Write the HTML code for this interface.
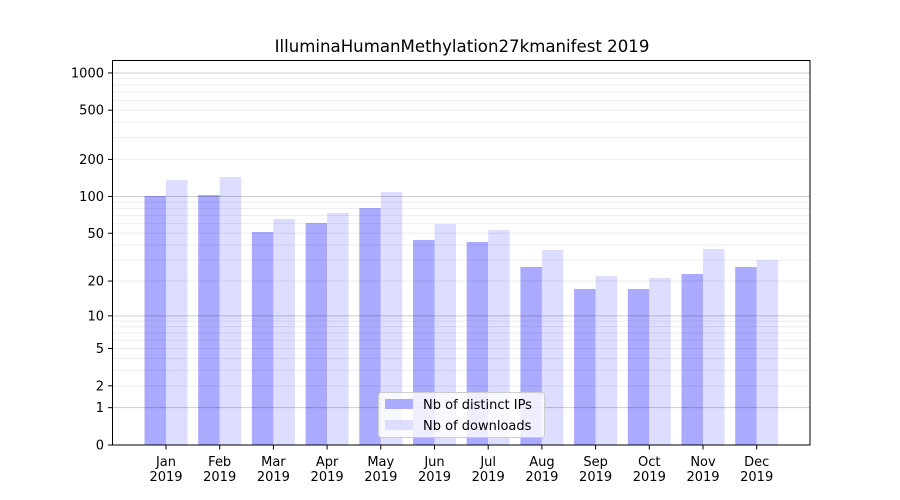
<!DOCTYPE html>
<html><head><meta charset="utf-8"><style>
body{margin:0;background:#fff;}
svg{display:block;font-family:"DejaVu Sans","Liberation Sans",sans-serif;}
</style></head><body>
<svg id="s" width="900" height="500" xmlns="http://www.w3.org/2000/svg">
<rect width="900" height="500" fill="#fff"/>
<g id="bars"></g>
<g id="grid"></g>
<rect x="112.5" y="60.5" width="697.5" height="384.5" fill="none" stroke="#000" stroke-width="1"/>
<g id="ticks" font-size="13" fill="#000"></g>
<text x="462" y="52" text-anchor="middle" font-size="16.6">IlluminaHumanMethylation27kmanifest 2019</text>
<g>
<rect x="378.5" y="392.5" width="166" height="45" rx="3" fill="#fff" fill-opacity="0.8" stroke="#ccc"/>
<rect x="385" y="399" width="28" height="10" fill="#aaaaff"/>
<rect x="385" y="420" width="28" height="10" fill="#ddddff"/>
<text x="423" y="409" font-size="13">Nb of distinct IPs</text>
<text x="423" y="430" font-size="13">Nb of downloads</text>
</g>
</svg>
<script>
var NS="http://www.w3.org/2000/svg";
function el(p,t,a,txt){var e=document.createElementNS(NS,t);for(var k in a)e.setAttribute(k,a[k]);if(txt!=null)e.textContent=txt;document.getElementById(p).appendChild(e);}
function Y(v){return 445-124*Math.log10(1+v);}
var months=["Jan","Feb","Mar","Apr","May","Jun","Jul","Aug","Sep","Oct","Nov","Dec"];
var tops=[[196,180],[195,177],[232,219],[223,213],[208,192],[240,224],[242,230],[267,250],[289,276],[289,278],[274,249],[267,260]];
for(var i=0;i<12;i++){
 var c=166+i*53.7;
 el("bars","rect",{x:c-21.5,y:tops[i][0],width:21.5,height:445-tops[i][0],fill:"#aaaaff"});
 el("bars","rect",{x:c,y:tops[i][1],width:21.5,height:445-tops[i][1],fill:"#ddddff"});
 el("ticks","line",{x1:c,x2:c,y1:445,y2:449.5,stroke:"#000"});
 el("ticks","text",{x:c,y:466,"text-anchor":"middle"},months[i]);
 el("ticks","text",{x:c,y:481,"text-anchor":"middle"},"2019");
}
[1,10,100].forEach(function(d){for(var m=2;m<=9;m++){var y=Y(m*d);el("grid","line",{x1:113,x2:810,y1:y,y2:y,stroke:"#000","stroke-opacity":0.07});}});
[1,10,100,1000].forEach(function(v){var y=Y(v);el("grid","line",{x1:113,x2:810,y1:y,y2:y,stroke:"#000","stroke-opacity":0.2});});
[0,1,2,5,10,20,50,100,200,500,1000].forEach(function(v){var y=Y(v);
 el("ticks","line",{x1:108,x2:112.5,y1:y,y2:y,stroke:"#000"});
 el("ticks","text",{x:104,y:y+4.5,"text-anchor":"end"},String(v));});
</script>
</body></html>
